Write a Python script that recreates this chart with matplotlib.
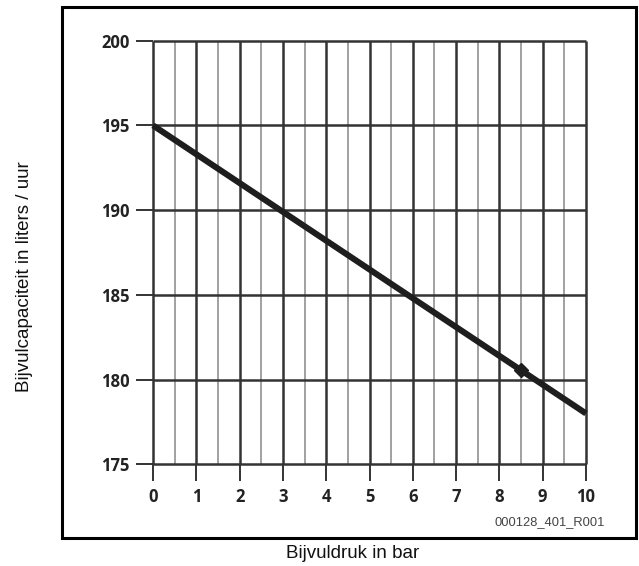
import matplotlib
matplotlib.use("Agg")
import matplotlib.pyplot as plt
from matplotlib.patches import Rectangle
import numpy as np

# ---- data ----
pressure_bar = [0, 10]
capacity_lph = [195, 178]
marker_pressure = [8.5]
marker_capacity = [180.55]
x_ticks = [0, 1, 2, 3, 4, 5, 6, 7, 8, 9, 10]
x_minor = [0.5, 1.5, 2.5, 3.5, 4.5, 5.5, 6.5, 7.5, 8.5, 9.5]
y_ticks = [175, 180, 185, 190, 195, 200]
x_label = "Bijvuldruk in bar"
y_label = "Bijvulcapaciteit in liters / uur"
code_text = "000128_401_R001"

W, H = 639, 566
fig = plt.figure(figsize=(W / 100, H / 100), dpi=100)
fig.patch.set_facecolor("white")

x0, x1 = 153, 586
ytop, ybot = 40.7, 464.3
ax = fig.add_axes([x0 / W, 1 - ybot / H, (x1 - x0) / W, (ybot - ytop) / H])
ax.set_xlim(0, 10)
ax.set_ylim(175, 200)
for s in ax.spines.values():
    s.set_visible(False)
ax.patch.set_alpha(0)

# grid
ax.vlines(x_minor, 175, 200, colors="#9a9a9a", linewidth=1.3, clip_on=False, zorder=1)
ax.vlines(x_ticks, 175, 200, colors="#333333", linewidth=1.8, clip_on=False, zorder=2)
ax.hlines(y_ticks, 0, 10, colors="#333333", linewidth=1.8, clip_on=False, zorder=2)

# line
ax.plot(pressure_bar, capacity_lph, color="#1e1e1e", linewidth=4.4,
        solid_capstyle="butt", zorder=3, clip_on=False)
ax.plot(marker_pressure, marker_capacity, marker="D", markersize=7,
        color="#1e1e1e", linestyle="none", zorder=4)

ax.set_xticks(x_ticks)
ax.set_xticklabels([str(v) for v in x_ticks])
ax.set_yticks(y_ticks)
ax.set_yticklabels([str(v) for v in y_ticks])
ax.tick_params(axis="both", length=12, width=1.4, color="#333333",
               labelsize=12, labelcolor="#222222")
ax.tick_params(axis="x", pad=5)
ax.tick_params(axis="y", pad=5)
for lab in ax.get_xticklabels() + ax.get_yticklabels():
    lab.set_fontweight("bold")
    lab.set_family(["Open Sans", "DejaVu Sans"])

# frame
fig.patches.append(Rectangle((62 / W, 1 - 538 / H), (636 - 62) / W, (538 - 7) / H,
                             transform=fig.transFigure, fill=False,
                             edgecolor="black", linewidth=2.2))

fig.text(550 / W, 1 - 522 / H, code_text, ha="center", va="center",
         fontsize=9.3, color="#444444", family=["Liberation Sans", "DejaVu Sans"])

fig.text(353 / W, 1 - 554 / H, x_label, ha="center", va="center",
         fontsize=13.5, color="#111111",
         family=["Liberation Sans Narrow", "Liberation Sans", "DejaVu Sans"])
fig.text(25 / W, 1 - 277 / H, y_label, ha="center", va="center", rotation=90,
         fontsize=13.5, color="#111111",
         family=["Liberation Sans Narrow", "Liberation Sans", "DejaVu Sans"])

fig.savefig("out.png", dpi=100)
